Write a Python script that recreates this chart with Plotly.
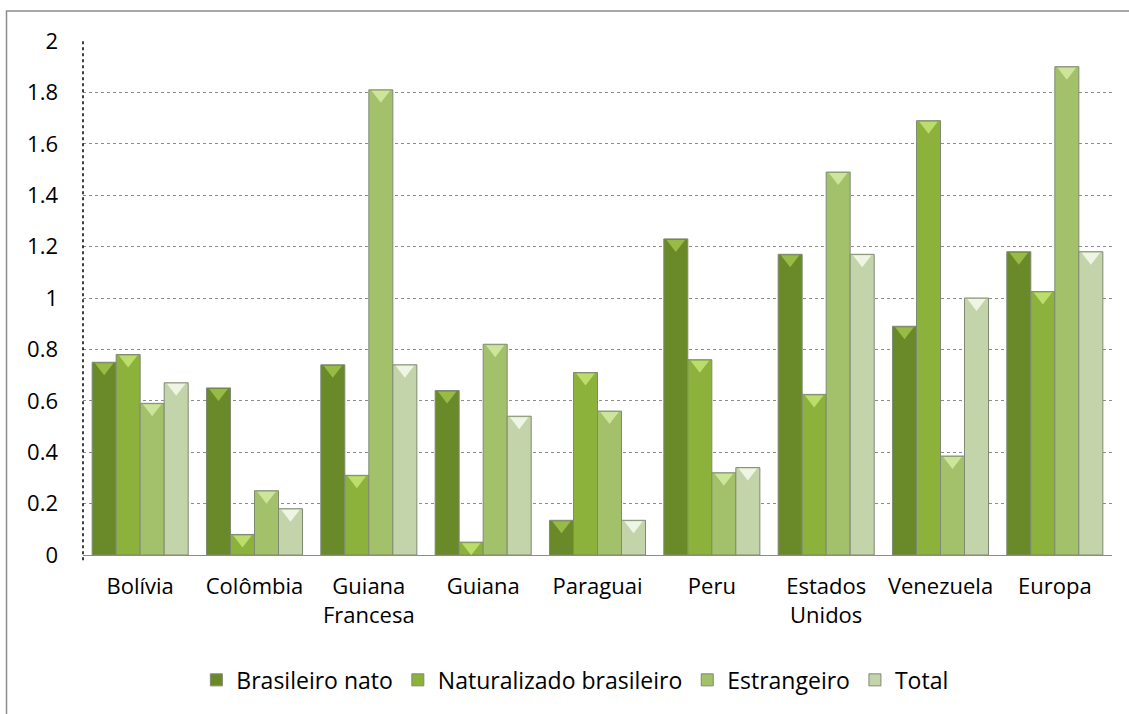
import plotly.graph_objects as go

categories = ["Bolívia", "Colômbia", "Guiana<br>Francesa", "Guiana", "Paraguai",
              "Peru", "Estados<br>Unidos", "Venezuela", "Europa"]

brasileiro_nato = [0.75, 0.65, 0.74, 0.64, 0.135, 1.23, 1.17, 0.89, 1.18]
naturalizado_brasileiro = [0.78, 0.08, 0.31, 0.05, 0.71, 0.76, 0.625, 1.69, 1.025]
estrangeiro = [0.59, 0.25, 1.81, 0.82, 0.56, 0.32, 1.49, 0.385, 1.90]
total = [0.67, 0.18, 0.74, 0.54, 0.135, 0.34, 1.17, 1.0, 1.18]

# name, values, bar colour, bevel highlight colour
series = [
    ("Brasileiro nato", brasileiro_nato, "#6a8a2a", "#97bb44"),
    ("Naturalizado brasileiro", naturalizado_brasileiro, "#8cb23b", "#bcdc6c"),
    ("Estrangeiro", estrangeiro, "#a3c06b", "#cde59a"),
    ("Total", total, "#c4d4aa", "#eef5e2"),
]

FONT = "Open Sans"
GAP = 0.16

fig = go.Figure()
for name, vals, color, _ in series:
    fig.add_trace(go.Bar(
        name=name, x=categories, y=vals, offsetgroup=name,
        marker=dict(color=color, line=dict(color="#7f8a72", width=1)),
    ))

# bevelled tops: a light wedge just under each bar's top edge
for name, vals, _, hi in series:
    fig.add_trace(go.Scatter(
        x=categories, y=vals, mode="markers", offsetgroup=name,
        showlegend=False, hoverinfo="skip",
        marker=dict(symbol="triangle-down", angle=0, standoff=5, size=16,
                    color=hi, line=dict(width=0)),
    ))

fig.update_layout(
    width=1129, height=714,
    margin=dict(l=83, r=17, t=41, b=159),
    paper_bgcolor="white", plot_bgcolor="white",
    barmode="group", bargap=GAP, bargroupgap=0.0,
    scattermode="group", scattergap=GAP,
    font=dict(family=FONT, size=22, color="#000000"),
    legend=dict(orientation="h", x=0.478, xanchor="center",
                y=-0.243, yanchor="middle",
                font=dict(family=FONT, size=23),
                itemwidth=30, traceorder="normal"),
    xaxis=dict(showgrid=False, showline=True, linecolor="#8c8c8c", linewidth=1,
               ticks="", ticklabelstandoff=12, tickfont=dict(size=22)),
    yaxis=dict(range=[0, 2], dtick=0.2, showgrid=True, gridcolor="#8c8c8c",
               griddash="dot", gridwidth=1, zeroline=False, showline=False,
               ticks="", ticklabelstandoff=24, tickfont=dict(size=22)),
    shapes=[
        # dotted left axis
        dict(type="line", xref="paper", yref="paper", x0=0, x1=0, y0=-0.01, y1=1,
             line=dict(color="black", width=1.5, dash="dot"), layer="above"),
        # chart border (right and bottom edges fall outside the canvas)
        dict(type="rect", xref="paper", yref="paper",
             x0=(6.5 - 83) / 1029, x1=(1140 - 83) / 1029,
             y0=(555 - 730) / 514, y1=(555 - 11) / 514,
             line=dict(color="#8c8c8c", width=1.5)),
    ],
)

fig.write_html("out.html")
